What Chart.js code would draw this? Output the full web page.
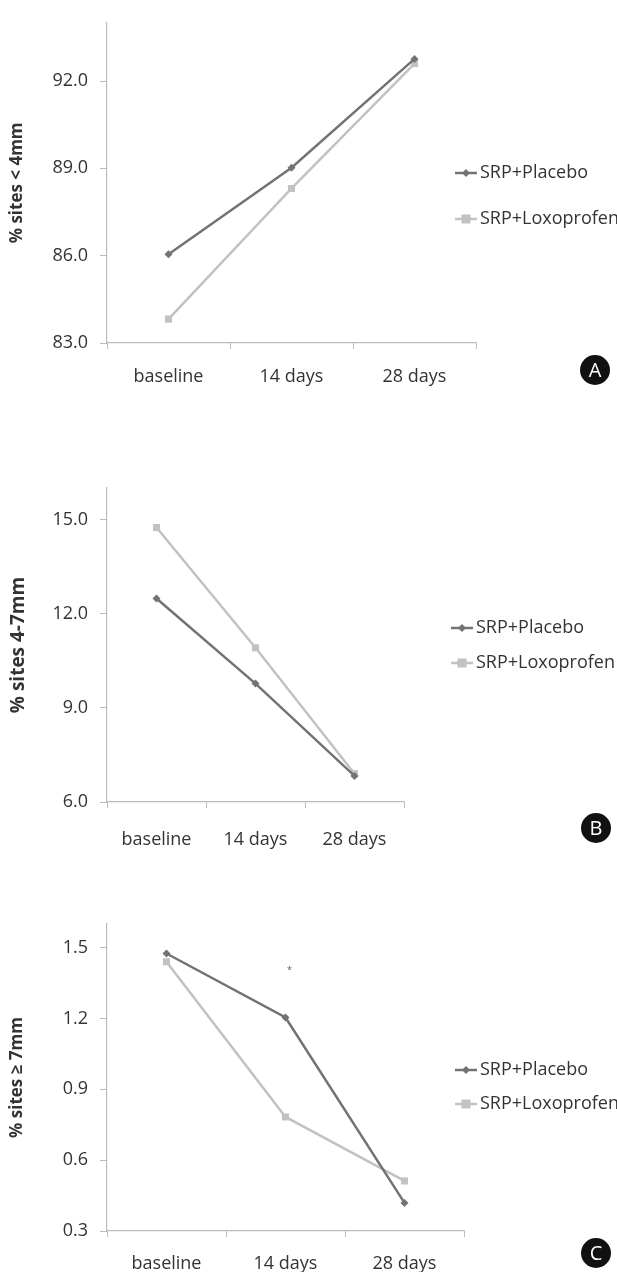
<!DOCTYPE html>
<html>
<head>
<meta charset="utf-8">
<script src="https://cdn.jsdelivr.net/npm/chart.js@4"></script>
<style>
  html, body { margin: 0; padding: 0; background: #fff; }
  body { width: 617px; height: 1272px; position: relative; overflow: hidden; }
  canvas { position: absolute; left: 0; }
</style>
</head>
<body>
<canvas id="chartA" width="617" height="420" style="top:0px"></canvas>
<canvas id="chartB" width="617" height="420" style="top:460px"></canvas>
<canvas id="chartC" width="617" height="382" style="top:890px"></canvas>
<script>
// data
const categories = ['baseline', '14 days', '28 days'];
const seriesNames = ['SRP+Placebo', 'SRP+Loxoprofen'];

const placeboA = [86.05, 89.02, 92.76];
const loxoA = [83.82, 88.31, 92.60];
const ticksA = [83, 86, 89, 92];

const placeboB = [12.48, 9.77, 6.83];
const loxoB = [14.74, 10.91, 6.90];
const ticksB = [6, 9, 12, 15];

const placeboC = [1.475, 1.204, 0.419];
const loxoC = [1.44, 0.783, 0.512];
const ticksC = [0.3, 0.6, 0.9, 1.2, 1.5];

const titles = ['% sites < 4mm', '% sites 4-7mm', '% sites \u2265 7mm'];
const panelLetters = ['A', 'B', 'C'];

// significance mark over 14 days in panel C
const sigMarkC = { index: 1, value: 1.41, text: '*' };

const placeboColor = '#737373';
const loxoColor = '#c2c2c2';
const axisColor = '#bcbcbc';
const textColor = '#333333';
const fontFamily = "'Open Sans', sans-serif";

// legend, panel badge and extra text, drawn on top
const extrasPlugin = {
    id: 'extras',
    afterDraw(chart, args, opts) {
        const ctx = chart.ctx;
        ctx.save();
        const items = [
            { name: seriesNames[0], color: placeboColor, style: 'diamond', y: opts.legendY[0] },
            { name: seriesNames[1], color: loxoColor, style: 'square', y: opts.legendY[1] }
        ];
        items.forEach(item => {
            ctx.strokeStyle = item.color;
            ctx.lineWidth = 2.5;
            ctx.beginPath();
            ctx.moveTo(opts.legendX, item.y);
            ctx.lineTo(opts.legendX + 22, item.y);
            ctx.stroke();
            ctx.fillStyle = item.color;
            const cx = opts.legendX + 11;
            if (item.style === 'diamond') {
                ctx.beginPath();
                ctx.moveTo(cx, item.y - 4);
                ctx.lineTo(cx + 4, item.y);
                ctx.lineTo(cx, item.y + 4);
                ctx.lineTo(cx - 4, item.y);
                ctx.closePath();
                ctx.fill();
            } else {
                ctx.fillRect(cx - 4.5, item.y - 4.5, 9, 9);
            }
            ctx.fillStyle = textColor;
            ctx.font = '18px ' + fontFamily;
            ctx.textBaseline = 'middle';
            ctx.textAlign = 'left';
            ctx.fillText(item.name, opts.legendX + 25, item.y);
        });

        // badge
        ctx.fillStyle = '#111';
        ctx.beginPath();
        ctx.arc(opts.badge.x, opts.badge.y, 15, 0, Math.PI * 2);
        ctx.fill();
        ctx.fillStyle = '#fff';
        ctx.font = '20px ' + fontFamily;
        ctx.textAlign = 'center';
        ctx.textBaseline = 'middle';
        ctx.fillText(opts.badge.text, opts.badge.x, opts.badge.y + 1);

        if (opts.mark) {
            const x = chart.scales.x.getPixelForValue(opts.mark.index);
            const y = chart.scales.y.getPixelForValue(opts.mark.value);
            ctx.fillStyle = '#555';
            ctx.font = '9px ' + fontFamily;
            ctx.fillText(opts.mark.text, x + 4, y + 2);
        }
        ctx.restore();
    }
};

function makeChart(id, placebo, loxo, yTicks, yMin, yMax, title, titleSize, area, labelPad, extras) {
    const canvas = document.getElementById(id);
    const H = canvas.height;
    return new Chart(canvas, {
        type: 'line',
        data: {
            labels: categories,
            datasets: [{
                label: seriesNames[0],
                data: placebo,
                borderColor: placeboColor,
                backgroundColor: placeboColor,
                borderWidth: 2.5,
                pointStyle: 'rectRot',
                pointRadius: 4,
                pointBorderWidth: 0,
                tension: 0
            }, {
                label: seriesNames[1],
                data: loxo,
                borderColor: loxoColor,
                backgroundColor: loxoColor,
                borderWidth: 2.5,
                pointStyle: 'rect',
                pointRadius: 5,
                pointBorderWidth: 0,
                tension: 0
            }]
        },
        options: {
            responsive: false,
            animation: false,
            devicePixelRatio: 1,
            layout: {
                padding: { left: 0, top: area.top, right: 617 - area.right, bottom: 0 }
            },
            plugins: {
                legend: { display: false },
                tooltip: { enabled: false },
                extras: extras
            },
            scales: {
                x: {
                    offset: true,
                    afterFit: scale => { scale.height = H - area.bottom; },
                    border: { color: axisColor, width: 1.2 },
                    grid: {
                        offset: true,
                        drawOnChartArea: false,
                        color: axisColor,
                        tickLength: 6
                    },
                    ticks: {
                        color: textColor,
                        padding: labelPad,
                        maxRotation: 0,
                        font: { family: fontFamily, size: 18 }
                    }
                },
                y: {
                    min: yMin,
                    max: yMax,
                    afterFit: scale => { scale.width = area.left; },
                    afterBuildTicks: scale => {
                        scale.ticks = yTicks.map(v => ({ value: v }));
                    },
                    border: { color: axisColor, width: 1.2 },
                    grid: {
                        drawOnChartArea: false,
                        color: axisColor,
                        tickLength: 7
                    },
                    ticks: {
                        color: textColor,
                        padding: 12,
                        font: { family: fontFamily, size: 18 },
                        callback: v => Number(v).toFixed(1)
                    },
                    title: {
                        display: true,
                        text: title,
                        color: textColor,
                        padding: { top: 7, bottom: 0 },
                        font: { family: fontFamily, size: titleSize, weight: 'bold' }
                    }
                }
            }
        },
        plugins: [extrasPlugin]
    });
}

makeChart('chartA', placeboA, loxoA, ticksA, 83, 94, titles[0], 17,
    { left: 107, right: 476, top: 10, bottom: 343 }, 17,
    { legendX: 455, legendY: [173, 219], badge: { x: 595, y: 370, text: panelLetters[0] } });

makeChart('chartB', placeboB, loxoB, ticksB, 6, 16, titles[1], 19,
    { left: 107, right: 404, top: 28, bottom: 342 }, 21,
    { legendX: 451, legendY: [168, 203], badge: { x: 596, y: 368, text: panelLetters[1] } });

makeChart('chartC', placeboC, loxoC, ticksC, 0.3, 1.6, titles[2], 17,
    { left: 107, right: 464, top: 34, bottom: 341 }, 16,
    { legendX: 455, legendY: [180, 214], badge: { x: 596, y: 363, text: panelLetters[2] }, mark: sigMarkC });
</script>
</body>
</html>
